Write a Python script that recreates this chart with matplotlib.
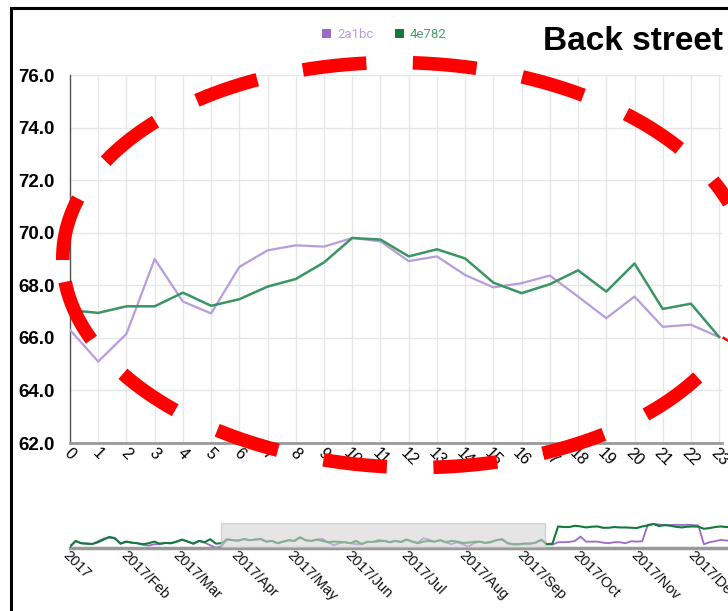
import matplotlib
matplotlib.use("Agg")
import matplotlib.pyplot as plt
import matplotlib.dates as mdates
from matplotlib.patches import Rectangle
from matplotlib.lines import Line2D
import pandas as pd
import numpy as np

# ---------------- data ----------------
weeks = list(range(24))
series_a_name = "2a1bc"
series_b_name = "4e782"
series_a = [66.3, 65.1, 66.15, 69.0, 67.38, 66.93, 68.7, 69.33, 69.52, 69.47, 69.8, 69.67,
            68.92, 69.1, 68.39, 67.92, 68.08, 68.37, 67.57, 66.75, 67.57, 66.42, 66.5, 66.03]
series_b = [67.05, 66.95, 67.2, 67.2, 67.72, 67.22, 67.47, 67.95, 68.24, 68.87, 69.8, 69.74,
            69.1, 69.37, 69.02, 68.1, 67.7, 68.04, 68.57, 67.76, 68.83, 67.1, 67.3, 66.03]
y_ticks = [62, 64, 66, 68, 70, 72, 74, 76]
title_text = "Back street"

# navigator (overview) series, sampled every 3 days from 2017-01-01
nav_start = "2017-01-01"
nav_b = [1.6, 7.3, 5, 4.6, 4.3, 6, 8.6, 11.3, 10, 4.6, 6.6, 5.6, 5, 4, 5, 6.6, 4.6, 5.3, 5, 6.6,
         8.6, 6.6, 4.6, 7.3, 6, 9, 4.6, 5, 9, 8, 7.6, 9.3, 8, 8.6, 9.3, 6.6, 7.3, 5, 6.6, 8,
         7.3, 11, 8, 7.3, 8.6, 7.3, 6, 6.6, 6.3, 6, 5, 7.3, 4.3, 6.3, 6.3, 7, 7.3, 6, 7.3, 6.3,
         8.6, 6.6, 5, 6.6, 7.3, 6.6, 8, 6, 7.3, 6.6, 5.3, 5.6, 6.3, 6.6, 5.3, 6, 8, 9, 5, 4,
         4, 4.6, 4.6, 5.6, 8.6, 4, 4.6, 21.6, 21, 21, 22.3, 21.6, 20.6, 21.3, 21.6, 20.3, 20.3, 21, 20.6, 20.6,
         20.3, 20, 21.6, 22.6, 24, 22, 23, 22.3, 21.3, 20.6, 21.3, 21.6, 21.3, 19.3, 20, 21, 21.6, 21, 21.3, 20.6,
         21, 21.3]
nav_a = [1.6, 7, 5, 4.6, 4.3, 7, 9.6, 10.5, 9.6, 4.6, 6.6, 5.6, 5, 3.6, 2.6, 4, 4, 5.3, 5, 6.6,
         8.6, 6.6, 4.6, 7.3, 5.6, 3, 0.6, 2, 8.6, 8, 7.6, 9, 8, 8.6, 9, 6.6, 7.3, 5, 6.6, 8,
         7.3, 10.6, 8, 7.3, 8.6, 9.3, 6, 3, 5, 6, 5, 4, 4.3, 6.3, 6.3, 8.3, 7.3, 6, 7.3, 6.3,
         8.6, 6.6, 5.6, 10, 8.6, 6.6, 8, 6, 4, 6, 4, 1.6, 5, 6.6, 5.3, 6.6, 8, 8.6, 5, 4,
         4, 4.6, 4.6, 5.6, 8, 4, 3.6, 6, 6, 6.3, 7.3, 11.6, 6.6, 6.6, 6.6, 5.6, 5, 6, 6, 5,
         7, 6.6, 7, 23.3, 24, 23.6, 22.6, 23, 23.3, 23, 23.3, 23, 22.6, 4, 6, 7, 8.3, 7.6, 8, 7.6,
         8, 7.6]
nav_sel_start = "2017-03-23"
nav_sel_end = "2017-09-12"
month_labels = ["2017", "2017/Feb", "2017/Mar", "2017/Apr", "2017/May", "2017/Jun",
                "2017/Jul", "2017/Aug", "2017/Sep", "2017/Oct", "2017/Nov", "2017/Dec"]

# ---------------- style ----------------
W, H = 728, 611
col_a_line = "#b89ddb"
col_b_line = "#3b9463"
col_a_mark = "#9b6bc8"
col_b_mark = "#137a3c"
col_a_text = "#b99ddb"
col_b_text = "#4f9e70"
FONT = ["Liberation Sans", "DejaVu Sans"]

fig = plt.figure(figsize=(W / 100, H / 100), dpi=100)
fig.patch.set_facecolor("white")

def fx(px):
    return px / W

def fy(py):
    return 1 - py / H

# ---------------- main axes ----------------
left, right, top, bottom = 70, 722, 75, 443
ax = fig.add_axes([fx(left), fy(bottom), fx(right) - fx(left), fy(top) - fy(bottom)])
ax.plot(weeks, series_a, color=col_a_line, lw=1.6, zorder=3, solid_joinstyle="round")
ax.plot(weeks, series_b, color=col_b_line, lw=1.8, zorder=4, solid_joinstyle="round")
ax.set_xlim(0, 23.1)
ax.set_ylim(62, 76)
ax.set_xticks(weeks)
ax.set_xticklabels([str(w) for w in weeks], rotation=-45, ha="center", fontsize=11.5,
                   family=FONT, color="black")
ax.set_yticks(y_ticks)
ax.set_yticklabels([f"{v:.1f}" for v in y_ticks], fontsize=13.5, fontweight="bold",
                   family=FONT, color="black")
ax.tick_params(axis="both", length=0)
ax.tick_params(axis="y", pad=11)
ax.tick_params(axis="x", pad=2)
ax.grid(True, color="#e6e6e6", lw=1)
ax.set_axisbelow(True)
for s in ["top", "right"]:
    ax.spines[s].set_visible(False)
ax.spines["left"].set_color("#555555")
ax.spines["left"].set_linewidth(1.0)
ax.spines["bottom"].set_color("#999999")
ax.spines["bottom"].set_linewidth(2.0)

# ---------------- navigator ----------------
nav_dates_a = pd.date_range(nav_start, periods=len(nav_a), freq="3D")
nav_dates_b = pd.date_range(nav_start, periods=len(nav_b), freq="3D")
px_per_day = 1.87
d0 = mdates.date2num(pd.Timestamp(nav_start))
nav_top, nav_bottom = 523, 548.3
axn = fig.add_axes([fx(70), fy(nav_bottom), 1 - fx(70), fy(nav_top) - fy(nav_bottom)])
axn.plot(nav_dates_a, nav_a, color=col_a_mark, lw=1.3, zorder=2)
axn.plot(nav_dates_b, nav_b, color=col_b_mark, lw=1.5, zorder=3)
axn.set_xlim(d0, d0 + (W - 70) / px_per_day)
axn.set_ylim(0, 25)
s0 = mdates.date2num(pd.Timestamp(nav_sel_start))
s1 = mdates.date2num(pd.Timestamp(nav_sel_end))
axn.add_patch(Rectangle((s0, 0), s1 - s0, 25, facecolor="#d4d4d4", alpha=0.6,
                        edgecolor="#bbbbbb", lw=1, zorder=5))
for s in ["top", "right", "left"]:
    axn.spines[s].set_visible(False)
axn.spines["bottom"].set_color("#999999")
axn.spines["bottom"].set_linewidth(2.5)
axn.set_yticks([])
month_pos = [mdates.date2num(pd.Timestamp(2017, m, 1)) for m in range(1, 13)]
axn.set_xticks(month_pos)
axn.set_xticklabels(month_labels, rotation=-45, ha="left", va="top",
                    rotation_mode="anchor", fontsize=10.5, family=FONT, color="#111111")
axn.tick_params(axis="x", length=0, pad=0)

# ---------------- legend & title ----------------
fig.add_artist(Rectangle((fx(321.5), fy(38)), 9 / W, 9 / H, transform=fig.transFigure,
                         facecolor=col_a_mark, edgecolor="none"))
fig.text(fx(337), fy(38.3), series_a_name, color=col_a_text, fontsize=9.5,
         family=["Roboto", "DejaVu Sans"], va="baseline", ha="left")
fig.add_artist(Rectangle((fx(395), fy(38)), 9 / W, 9 / H, transform=fig.transFigure,
                         facecolor=col_b_mark, edgecolor="none"))
fig.text(fx(410), fy(38.3), series_b_name, color=col_b_text, fontsize=9.5,
         family=["Roboto", "DejaVu Sans"], va="baseline", ha="left")
fig.text(fx(543), fy(49.5), title_text, fontsize=24, fontweight="bold", family=FONT,
         va="baseline", ha="left", color="black")

# ---------------- frame ----------------
fig.add_artist(Rectangle((fx(11), -0.05), 1.2, fy(8) + 0.05, transform=fig.transFigure,
                         facecolor="none", edgecolor="black", lw=2.2, zorder=20))

# ---------------- red dashed ellipse (annotation overlay) ----------------
cx, cy, ea, eb, shear = 406, 265, 343, 202.5, 0.057
dash_len, seam_gap, n_dash, dash_shift = 64.0, 22.0, 16, 7.0

def ell_pts(t):
    v = -eb * np.sin(t)
    return cx - ea * np.cos(t) + shear * v, cy + v

tt = np.linspace(-0.6, 0.6, 4001)
_, yy = ell_pts(tt)
t_start = tt[np.argmin(np.abs(yy - 267.0))]
t_all = np.linspace(t_start, t_start + 2 * np.pi, 20001)
ex, ey = ell_pts(t_all)
seg = np.hypot(np.diff(ex), np.diff(ey))
sarc = np.concatenate([[0], np.cumsum(seg)])
perim = sarc[-1]
gap = (perim - n_dash * dash_len - seam_gap) / (n_dash - 1)
for k in range(n_dash):
    a0 = dash_shift + k * (dash_len + gap)
    a1 = a0 + dash_len
    m = (sarc >= a0) & (sarc <= a1)
    fig.add_artist(Line2D(ex[m] / W, 1 - ey[m] / H, transform=fig.transFigure,
                          color="#ff0000", lw=9.8, solid_capstyle="butt", zorder=30))

fig.savefig("out.png", dpi=100, facecolor="white")
